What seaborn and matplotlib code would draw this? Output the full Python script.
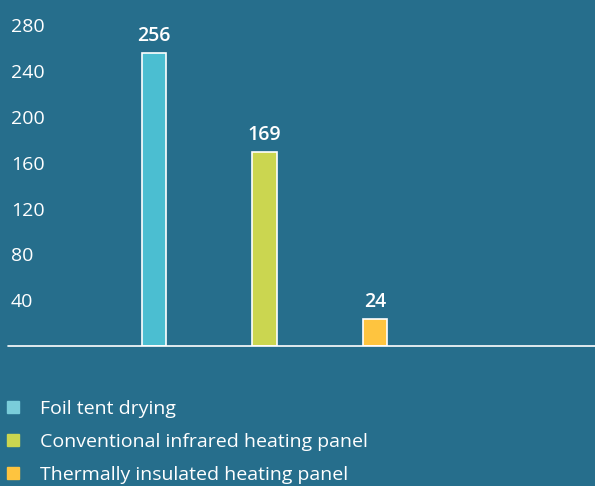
import matplotlib.pyplot as plt
import seaborn as sns
import pandas as pd
from matplotlib.lines import Line2D

# Data
methods = ['Foil tent drying', 'Conventional infrared heating panel', 'Thermally insulated heating panel']
values = [256, 169, 24]
bar_colors = ['#4BBED1', '#CBD650', '#FEC43F']
legend_colors = ['#7ACDDA', '#CBD650', '#FEC43F']
yticks = [40, 80, 120, 160, 200, 240, 280]

BG = '#266E8C'

df = pd.DataFrame({'Method': methods, 'Value': values})

sns.set_theme(style='white')
plt.rcParams['font.family'] = ['Open Sans', 'DejaVu Sans']

fig = plt.figure(figsize=(5.95, 4.86), dpi=100, facecolor=BG)
ax = fig.add_axes([8 / 595, 1 - 346 / 486, 1 - 8 / 595, 346 / 486])
ax.set_facecolor(BG)

sns.barplot(data=df, x='Method', y='Value', hue='Method', palette=bar_colors,
            saturation=1, legend=False, width=0.22, edgecolor='white',
            linewidth=1.2, ax=ax)

# value labels on top of the bars
for i, v in enumerate(values):
    ax.annotate(f'{v}', (i, v), xytext=(0, 5), textcoords='offset points',
                ha='center', va='bottom', fontsize=14, fontweight='semibold', color='white')

ax.set_xlim(-1.32, 3.99)
ax.set_ylim(0, 302)
ax.axhline(0, color='white', lw=1.2, clip_on=False)

ax.set_yticks(yticks)
ax.set_yticklabels([str(t) for t in yticks])
ax.tick_params(axis='y', length=0, pad=-2, labelsize=14, labelcolor='white')
for lbl in ax.get_yticklabels():
    lbl.set_horizontalalignment('left')
ax.set_xticks([])
ax.set_xlabel('')
ax.set_ylabel('')
sns.despine(ax=ax, left=True, bottom=True, top=True, right=True)

# legend below the plot
handles = [Line2D([], [], marker='s', linestyle='', markersize=8.5, color=c) for c in legend_colors]
leg = fig.legend(handles, methods, loc='upper left', bbox_to_anchor=(0.0, 1 - 396 / 486),
                 frameon=False, fontsize=14, labelcolor='white', handlelength=0.9,
                 handletextpad=0.95, labelspacing=0.78, borderaxespad=0, borderpad=0.2)

fig.savefig('out.png', dpi=100, facecolor=BG)
